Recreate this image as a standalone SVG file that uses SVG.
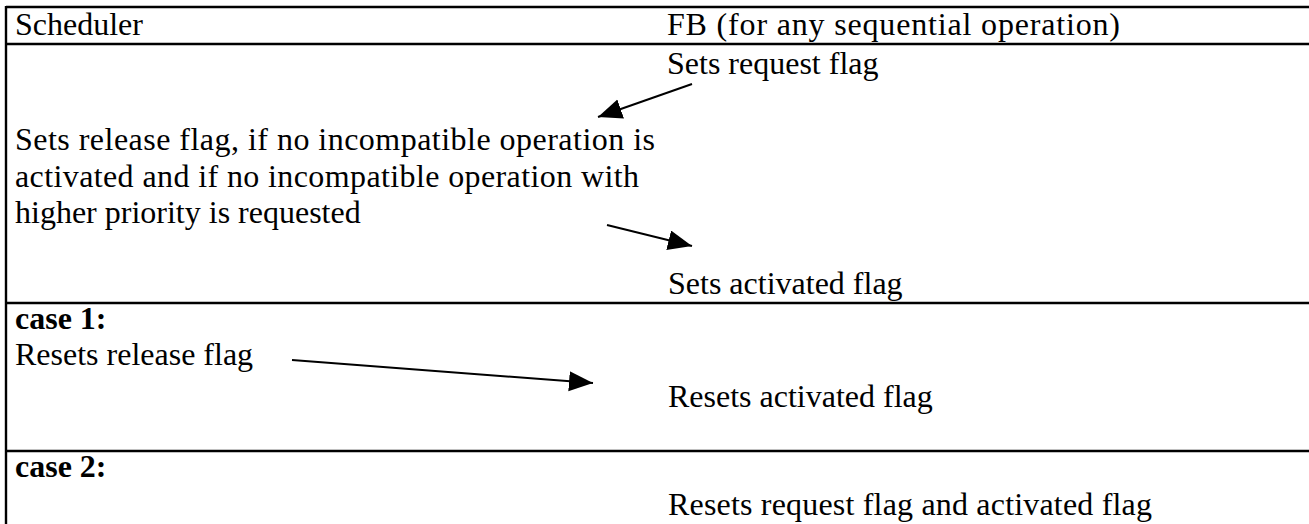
<svg xmlns="http://www.w3.org/2000/svg" width="1309" height="524" viewBox="0 0 1309 524">
  <style>
    .grid { stroke: #000; stroke-width: 2.4; fill: none; }
    .t { font-family: "Liberation Serif", "Times New Roman", serif; font-size: 32px; fill: #000; }
    .b { font-weight: bold; }
    .conn { stroke: #000; stroke-width: 2; fill: none; marker-end: url(#head); }
  </style>
  <defs>
    <marker id="head" markerUnits="userSpaceOnUse" markerWidth="26" markerHeight="22" refX="24" refY="10" orient="auto">
      <path d="M0,0 L24,10 L0,20 z" fill="#000"/>
    </marker>
  </defs>
  <rect width="1309" height="524" fill="#fff"/>

  <!-- table rules -->
  <g id="table">
    <line class="grid" x1="6" y1="7" x2="1309" y2="7"/>
    <line class="grid" x1="6" y1="44" x2="1309" y2="44"/>
    <line class="grid" x1="6" y1="303" x2="1309" y2="303"/>
    <line class="grid" x1="6" y1="451" x2="1309" y2="451"/>
    <line class="grid" x1="6" y1="6" x2="6" y2="524"/>
  </g>

  <!-- column headings -->
  <g id="head-scheduler"><text class="t" x="15" y="35">Scheduler</text></g>
  <g id="head-fb"><text class="t" x="667" y="35" textLength="453" lengthAdjust="spacing">FB (for any sequential operation)</text></g>

  <!-- activation phase -->
  <g id="fb-sets-request"><text class="t" x="667" y="74">Sets request flag</text></g>
  <g id="sched-sets-release">
    <text class="t" x="15" y="150" textLength="640" lengthAdjust="spacing">Sets release flag, if no incompatible operation is</text>
    <text class="t" x="15" y="186.5" textLength="624" lengthAdjust="spacing">activated and if no incompatible operation with</text>
    <text class="t" x="15" y="223">higher priority is requested</text>
  </g>
  <g id="fb-sets-activated"><text class="t" x="668" y="294">Sets activated flag</text></g>

  <!-- case 1 -->
  <g id="case1"><text class="t b" x="15" y="329">case 1:</text></g>
  <g id="sched-resets-release"><text class="t" x="15" y="365">Resets release flag</text></g>
  <g id="fb-resets-activated"><text class="t" x="668" y="407">Resets activated flag</text></g>

  <!-- case 2 -->
  <g id="case2"><text class="t b" x="15" y="477">case 2:</text></g>
  <g id="fb-resets-both"><text class="t" x="668" y="515" textLength="484" lengthAdjust="spacing">Resets request flag and activated flag</text></g>

  <!-- connectors -->
  <g id="connectors">
    <line class="conn" x1="692" y1="84" x2="598" y2="117"/>
    <line class="conn" x1="607" y1="225" x2="692" y2="246"/>
    <line class="conn" x1="292" y1="360" x2="593" y2="383"/>
  </g>
</svg>
